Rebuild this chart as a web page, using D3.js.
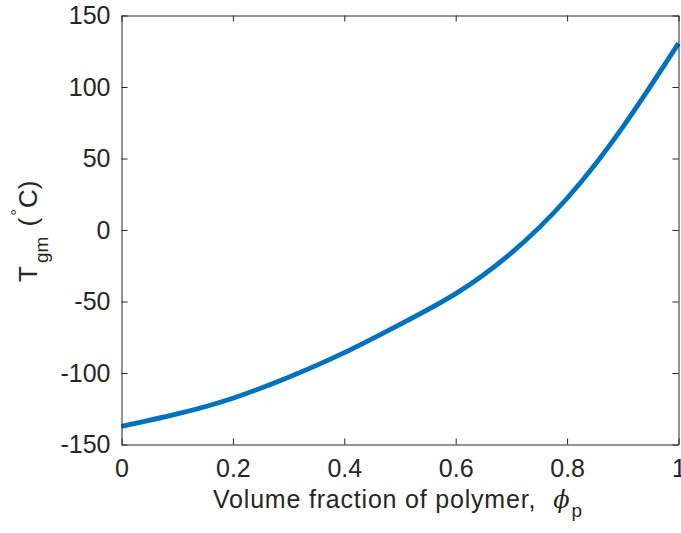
<!DOCTYPE html>
<html>
<head>
<meta charset="utf-8">
<script src="https://cdn.jsdelivr.net/npm/d3@7"></script>
<style>
  html, body { margin: 0; padding: 0; background: #ffffff; }
  svg { display: block; }
  text { font-family: "Liberation Sans", Arial, Helvetica, sans-serif; fill: #262626; }
</style>
</head>
<body>
<svg id="chart" width="681" height="533"></svg>
<script>
// Glass transition temperature of the mixture vs. polymer volume fraction
const phi = [0, 0.1, 0.2, 0.3, 0.4, 0.5, 0.6, 0.7, 0.8, 0.9, 1.0];
const tgm = [-137.3, -128.6, -117.6, -103.0, -85.8, -66.0, -44.5, -16.0, 22.2, 72.0, 130.5];

const xTicks = [0, 0.2, 0.4, 0.6, 0.8, 1];
const xTickLabels = ["0", "0.2", "0.4", "0.6", "0.8", "1"];
const yTicks = [-150, -100, -50, 0, 50, 100, 150];
const yTickLabels = ["-150", "-100", "-50", "0", "50", "100", "150"];

const plotBox = { left: 121.5, right: 678.5, top: 15.5, bottom: 444.5 };
const tickLen = 6;
const axisColor = "#262626";

const svg = d3.select("#chart");

const x = d3.scaleLinear().domain([0, 1]).range([plotBox.left, plotBox.right]);
const y = d3.scaleLinear().domain([-150, 150]).range([plotBox.bottom, plotBox.top]);

// curve
const line = d3.line()
  .x((d, i) => x(phi[i]))
  .y(d => y(d))
  .curve(d3.curveNatural);

svg.append("path")
  .datum(tgm)
  .attr("d", line)
  .attr("fill", "none")
  .attr("stroke", "#0072BD")
  .attr("stroke-width", 4.8)
  .attr("stroke-linecap", "butt");

// axes (box with inward ticks on all sides)
const fontSize = 25;

const xAxisB = d3.axisBottom(x).tickValues(xTicks)
  .tickFormat((d, i) => xTickLabels[i]).tickSizeInner(-tickLen).tickSizeOuter(0).tickPadding(15);
const xAxisT = d3.axisTop(x).tickValues(xTicks)
  .tickFormat("").tickSizeInner(-tickLen).tickSizeOuter(0);
const yAxisL = d3.axisLeft(y).tickValues(yTicks)
  .tickFormat((d, i) => yTickLabels[i]).tickSizeInner(-tickLen).tickSizeOuter(0).tickPadding(11);
const yAxisR = d3.axisRight(y).tickValues(yTicks)
  .tickFormat("").tickSizeInner(-tickLen).tickSizeOuter(0);

function style(g) {
  g.select(".domain").attr("stroke", axisColor).attr("stroke-width", 1);
  g.selectAll(".tick line").attr("stroke", axisColor).attr("stroke-width", 1);
  g.selectAll(".tick text")
    .attr("fill", axisColor)
    .style("font-family", '"Liberation Sans", Arial, sans-serif')
    .style("font-size", fontSize + "px");
}

svg.append("g").attr("transform", `translate(0,${plotBox.bottom})`).call(xAxisB).call(style);
svg.append("g").attr("transform", `translate(0,${plotBox.top})`).call(xAxisT).call(style);
svg.append("g").attr("transform", `translate(${plotBox.left},0)`).call(yAxisL).call(style);
svg.append("g").attr("transform", `translate(${plotBox.right},0)`).call(yAxisR).call(style);

// x-axis label
const xl = svg.append("text")
  .attr("x", 213)
  .attr("y", 508)
  .attr("text-anchor", "start")
  .style("font-size", "25px");
xl.append("tspan").style("letter-spacing", "0.8px").text("Volume fraction of polymer,");
xl.append("tspan")
  .attr("dx", 17)
  .style("font-family", '"DejaVu Serif", "Liberation Serif", serif')
  .style("font-style", "italic")
  .style("font-size", "24px")
  .text("\u03D5");
xl.append("tspan")
  .attr("dx", 2)
  .attr("dy", 9)
  .style("font-size", "19px")
  .text("p");

// y-axis label
const yl = svg.append("text")
  .attr("transform", "translate(37,282) rotate(-90)")
  .attr("text-anchor", "start")
  .style("font-size", "26px");
yl.append("tspan").text("T");
yl.append("tspan").attr("dx", 3).attr("dy", 11).style("font-size", "19px").text("gm");
yl.append("tspan").attr("dx", 3).attr("dy", -11).text(" (");
yl.append("tspan").attr("dx", 2).attr("dy", -14).style("font-size", "17px").text("\u00B0");
yl.append("tspan").attr("dx", 1).attr("dy", 14).text("C)");
</script>
</body>
</html>
